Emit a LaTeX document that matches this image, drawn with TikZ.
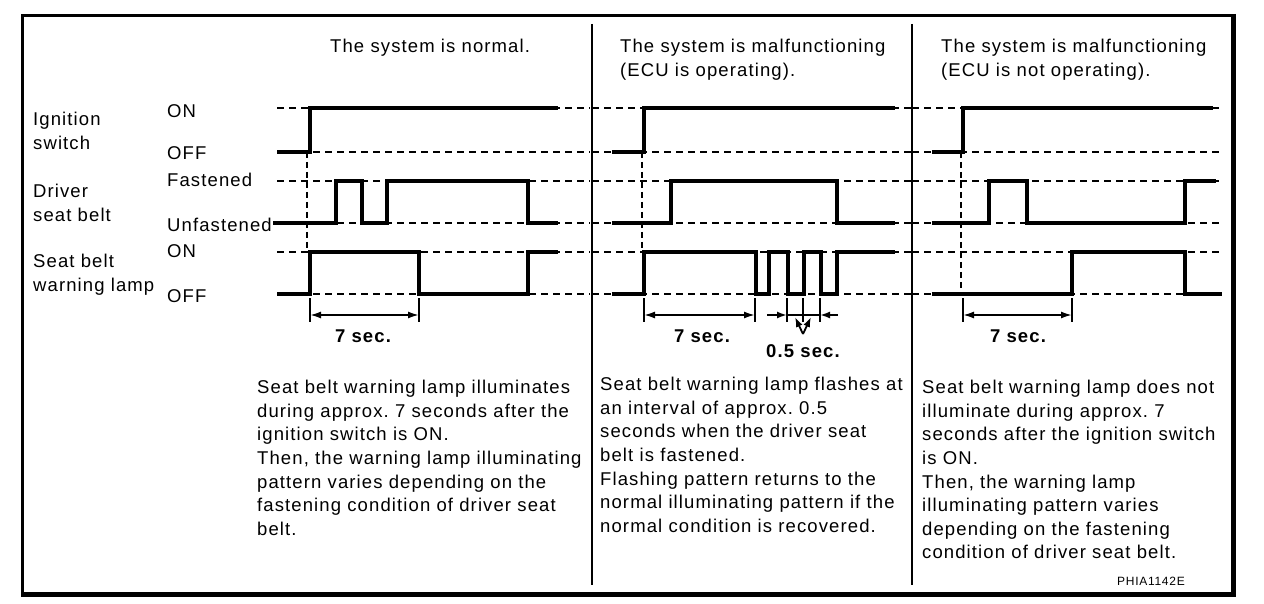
\documentclass[tikz,border=0pt]{standalone}
\usepackage{fontspec}
\setmainfont{Liberation Sans}[LetterSpace=6]
\usetikzlibrary{arrows.meta, positioning, calc}
\tikzset{
    signal/.style={line width=4pt, line join=miter},
    gridline/.style={line width=1.6pt, dash pattern=on 7pt off 5pt},
    syncline/.style={line width=1.5pt, dash pattern=on 6pt off 4pt},
    extline/.style={line width=1.5pt},
    dimarrow/.style={line width=1.8pt, {Latex[length=11pt,width=7pt]}-{Latex[length=11pt,width=7pt]}},
    tiparrow/.style={line width=1.8pt, -{Latex[length=10pt,width=7pt]}},
    txt/.style={inner sep=0pt, anchor=north west, align=left, font=\fontsize{18.5}{23.6}\selectfont},
    state/.style={inner sep=0pt, anchor=base west, font=\fontsize{18.5}{23.6}\selectfont},
    secs/.style={inner sep=0pt, anchor=base, font=\fontsize{18.5}{20}\selectfont\bfseries},
}
\frenchspacing

\begin{document}
\begin{tikzpicture}[x=1pt, y=-1pt]
\useasboundingbox (0,0) rectangle (1264,604);

% === FRAME ===
\draw[line width=3pt] (22.5,15.5) rectangle (1233,594);
\draw[line width=5pt] (1233,14) -- (1233,596.5);
\draw[line width=5pt] (21,594) -- (1235.5,594);
\draw[line width=2pt] (592,24) -- (592,585);
\draw[line width=2pt] (912,24) -- (912,585);

% === TITLES ===
\node[txt] (tnorm) at (330,39) {The system is normal.};
\node[txt] (tecu) at (620,39) {The system is malfunctioning\\(ECU is operating).};
\node[txt] (tnoecu) at (941,39) {The system is malfunctioning\\(ECU is not operating).};

% === SIGNAL NAMES ===
\node[txt] (ign) at (33,112) {Ignition\\switch};
\node[txt] (belt) at (33,184) {Driver\\seat belt};
\node[txt] (lamp) at (33,254) {Seat belt\\warning lamp};

\node[state] (ignon) at (167,118) {ON};
\node[state] (ignoff) at (167,160) {OFF};
\node[state] (beltf) at (167,187) {Fastened};
\node[state] (beltu) at (167,232) {Unfastened};
\node[state] (lampon) at (167,258) {ON};
\node[state] (lampoff) at (167,302) {OFF};

% === DASHED LEVELS ===
\foreach \y in {108,152,181,223,252,294} {
    \draw[gridline] (277,\y) -- (590,\y);
    \draw[gridline] (592,\y) -- (912,\y);
    \draw[gridline] (912,\y) -- (1222,\y);
}

% === NORMAL ===
\draw[syncline] (307,152) -- (307,252);
\draw[signal] (277,152) -- (310,152) -- (310,108) -- (558,108);
\draw[signal] (273,223) -- (336,223) -- (336,181) -- (362,181) -- (362,223) -- (387,223) -- (387,181) -- (528,181) -- (528,223) -- (558,223);
\draw[signal] (277,294) -- (310,294) -- (310,252) -- (419,252) -- (419,294) -- (528,294) -- (528,252) -- (558,252);

\coordinate (na) at (310,315);
\coordinate (nb) at (419,315);
\draw[extline] (310,298) -- (310,322);
\draw[extline] (419,298) -- (419,322);
\draw[dimarrow] (na) -- (nb);
\node[secs] (nsec) at (363,342) {7 sec.};

% === ECU OPERATING ===
\draw[syncline] (642,152) -- (642,252);
\draw[signal] (612,152) -- (644,152) -- (644,108) -- (895,108);
\draw[signal] (612,223) -- (671,223) -- (671,181) -- (837,181) -- (837,223) -- (895,223);
\draw[signal] (612,294) -- (644,294) -- (644,252) -- (756,252) -- (756,294) -- (769,294) -- (769,252) -- (788,252) -- (788,294) -- (804,294) -- (804,252) -- (821,252) -- (821,294) -- (837,294) -- (837,252) -- (895,252);

\coordinate (ea) at (644,315);
\coordinate (eb) at (755,315);
\draw[extline] (644,298) -- (644,322);
\draw[extline] (755,298) -- (755,322);
\draw[dimarrow] (ea) -- (eb);
\node[secs] (esec) at (702,342) {7 sec.};

\coordinate (fa) at (787,315);
\coordinate (fm) at (803,315);
\coordinate (fb) at (820,315);
\coordinate (fv) at (803,334);
\foreach \x in {787,803,820} \draw[extline] (\x,298) -- (\x,322);
\draw[extline] (fa) -- (fb);
\draw[tiparrow] (767,315) -- (fa);
\draw[tiparrow] (838,315) -- (fb);
\draw[tiparrow] (fv) -- (795,317);
\draw[tiparrow] (fv) -- (811,317);
\node[secs] (fsec) at (803,357) {0.5 sec.};

% === ECU NOT OPERATING ===
\draw[syncline] (961,152) -- (961,294);
\draw[signal] (932,152) -- (963,152) -- (963,108) -- (1213,108);
\draw[signal] (932,223) -- (989,223) -- (989,181) -- (1027,181) -- (1027,223) -- (1185,223) -- (1185,181) -- (1216,181);
\draw[signal] (932,294) -- (1072,294) -- (1072,252) -- (1185,252) -- (1185,294) -- (1222,294);

\coordinate (ma) at (963,315);
\coordinate (mb) at (1072,315);
\draw[extline] (963,298) -- (963,322);
\draw[extline] (1072,298) -- (1072,322);
\draw[dimarrow] (ma) -- (mb);
\node[secs] (msec) at (1018,342) {7 sec.};

% === NOTES ===
\node[txt] (nnote) at (257,380) {Seat belt warning lamp illuminates\\during approx. 7 seconds after the\\ignition switch is ON.\\Then, the warning lamp illuminating\\pattern varies depending on the\\fastening condition of driver seat\\belt.};
\node[txt] (enote) at (600,377) {Seat belt warning lamp flashes at\\an interval of approx. 0.5\\seconds when the driver seat\\belt is fastened.\\Flashing pattern returns to the\\normal illuminating pattern if the\\normal condition is recovered.};
\node[txt] (mnote) at (922,380) {Seat belt warning lamp does not\\illuminate during approx. 7\\seconds after the ignition switch\\is ON.\\Then, the warning lamp\\illuminating pattern varies\\depending on the fastening\\condition of driver seat belt.};

\node[inner sep=0pt, anchor=base, font=\fontsize{12}{13}\selectfont] (code) at (1151,585) {PHIA1142E};

\end{tikzpicture}
\end{document}
